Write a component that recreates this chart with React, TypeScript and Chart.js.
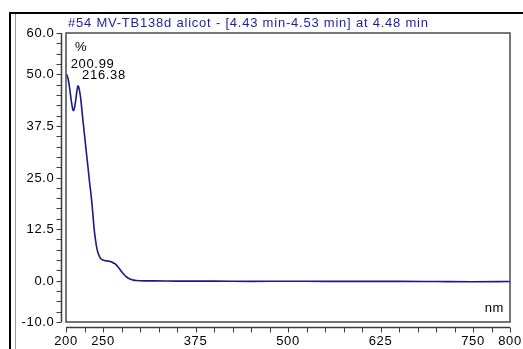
import React, { useEffect, useRef } from "react";
import { Chart, registerables } from "chart.js";

Chart.register(...registerables);

const titleText = "#54 MV-TB138d alicot - [4.43 min-4.53 min] at 4.48 min";
const yUnit = "%";
const xUnit = "nm";

const wavelengths = [
  200, 201, 203, 205, 207, 209, 210, 211, 213, 215, 216.38, 218, 220, 222, 224, 226, 228, 230,
  232, 234, 236, 238, 240, 242, 244, 246, 248, 250, 252, 255, 258, 261, 264, 267, 270, 273, 276,
  279, 282, 285, 288, 291, 295, 300, 310, 320, 350, 400, 450, 500, 550, 600, 650, 700, 750, 800,
];
const absorbance = [
  49.8, 49.9, 48.8, 46.5, 43.8, 41.6, 41.2, 41.5, 43.5, 46.3, 47.2, 46.3, 44.0, 40.4, 37.0, 33.6,
  30.3, 27.0, 23.6, 20.6, 16.8, 12.6, 9.7, 7.6, 6.4, 5.6, 5.2, 5.0, 4.9, 4.8, 4.7, 4.6, 4.3, 4.0,
  3.4, 2.7, 2.0, 1.4, 0.9, 0.55, 0.3, 0.15, 0.05, 0.0, -0.05, -0.05, -0.1, -0.1, -0.15, -0.12,
  -0.15, -0.15, -0.15, -0.2, -0.25, -0.2,
];

const peakNm = [200.99, 216.38];
const peakVal = [49.9, 47.2];

const xMajorTicks = [200, 250, 375, 500, 625, 750, 800];
const yMajorTicks = [60, 50, 37.5, 25, 12.5, 0, -10];
const xMinorStep = 25;
const yMinorStep = 2.5;

const FONT = "13px 'Liberation Sans', Arial, sans-serif";

const framePlugin = {
  id: "framePlugin",
  beforeDraw(chart: any) {
    const ctx = chart.ctx;
    ctx.save();
    ctx.fillStyle = "#ffffff";
    ctx.fillRect(0, 0, chart.width, chart.height);
    ctx.restore();
  },
  afterDraw(chart: any) {
    const ctx = chart.ctx;
    const ca = chart.chartArea;
    const xs = chart.scales.x;
    const ys = chart.scales.y;
    ctx.save();
    ctx.letterSpacing = "0.65px";

    // outer window frame
    ctx.fillStyle = "#000000";
    ctx.fillRect(9, 12, chart.width - 9, 2);
    ctx.fillRect(9, 12, 2, chart.height - 12);
    ctx.strokeStyle = "#9a9a9a";
    ctx.lineWidth = 1;
    ctx.beginPath();
    ctx.moveTo(15.5, 14);
    ctx.lineTo(15.5, chart.height);
    ctx.stroke();

    // plot box
    ctx.strokeStyle = "#4a4a4a";
    ctx.lineWidth = 1.5;
    ctx.strokeRect(ca.left, ca.top, ca.right - ca.left, ca.bottom - ca.top);

    // y axis
    const yAxisX = ca.left - 4.5;
    ctx.strokeStyle = "#3c3c3c";
    ctx.lineWidth = 1.5;
    ctx.beginPath();
    ctx.moveTo(yAxisX, ca.top);
    ctx.lineTo(yAxisX, ca.bottom);
    ctx.stroke();
    ctx.lineWidth = 1;
    ctx.beginPath();
    for (let v = ys.min; v <= ys.max + 1e-9; v += yMinorStep) {
      const py = Math.round(ys.getPixelForValue(v)) + 0.5;
      ctx.moveTo(yAxisX - 5, py);
      ctx.lineTo(yAxisX, py);
    }
    ctx.stroke();
    ctx.fillStyle = "#000000";
    ctx.font = FONT;
    ctx.textAlign = "right";
    ctx.textBaseline = "middle";
    for (const v of yMajorTicks) {
      ctx.fillText(v.toFixed(1), yAxisX - 7, ys.getPixelForValue(v) + 0.5);
    }

    // x axis
    const xAxisY = ca.bottom + 5.5;
    ctx.strokeStyle = "#3c3c3c";
    ctx.lineWidth = 1.5;
    ctx.beginPath();
    ctx.moveTo(ca.left, xAxisY);
    ctx.lineTo(ca.right, xAxisY);
    ctx.stroke();
    ctx.lineWidth = 1;
    ctx.beginPath();
    for (let v = xs.min; v <= xs.max + 1e-9; v += xMinorStep) {
      const px = Math.round(xs.getPixelForValue(v)) + 0.5;
      ctx.moveTo(px, xAxisY);
      ctx.lineTo(px, xAxisY + 5);
    }
    ctx.stroke();
    ctx.textAlign = "center";
    ctx.textBaseline = "alphabetic";
    for (const v of xMajorTicks) {
      ctx.fillText(String(v), xs.getPixelForValue(v), xAxisY + 17);
    }

    // units
    ctx.textAlign = "left";
    ctx.fillText(yUnit, ca.left + 9, ca.top + 18);
    ctx.textAlign = "right";
    ctx.fillText(xUnit, ca.right - 6, ca.bottom - 10);

    // peak labels
    ctx.textAlign = "left";
    for (let i = 0; i < peakNm.length; i++) {
      const px = xs.getPixelForValue(peakNm[i]);
      const py = ys.getPixelForValue(peakVal[i]);
      ctx.fillText(peakNm[i].toFixed(2), px + 4, py - 7);
    }

    // title
    ctx.letterSpacing = "0.78px";
    ctx.fillStyle = "#1e1e9e";
    ctx.textAlign = "left";
    ctx.fillText(titleText, ca.left + 2, 27);
    ctx.restore();
  },
};

export default function App() {
  const ref = useRef<HTMLCanvasElement | null>(null);
  useEffect(() => {
    document.body.style.margin = "0";
    const canvas = ref.current;
    if (!canvas) return;
    const chart = new Chart(canvas, {
      type: "line",
      data: {
        labels: wavelengths,
        datasets: [
          {
            data: wavelengths.map((w, i) => ({ x: w, y: absorbance[i] })),
            borderColor: "#1a1a88",
            borderWidth: 1.6,
            pointRadius: 0,
            fill: false,
            cubicInterpolationMode: "monotone",
          },
        ],
      },
      options: {
        animation: false,
        responsive: false,
        events: [],
        layout: { padding: { left: 66, top: 33, right: 13, bottom: 27 } },
        plugins: { legend: { display: false }, tooltip: { enabled: false }, title: { display: false } },
        scales: {
          x: { type: "linear", min: 200, max: 800, display: false },
          y: { type: "linear", min: -10, max: 60, display: false },
        },
      },
      plugins: [framePlugin],
    });
    return () => chart.destroy();
  }, []);
  return (
    <div style={{ width: 523, height: 349 }}>
      <canvas ref={ref} width={523} height={349} style={{ display: "block" }} />
    </div>
  );
}
